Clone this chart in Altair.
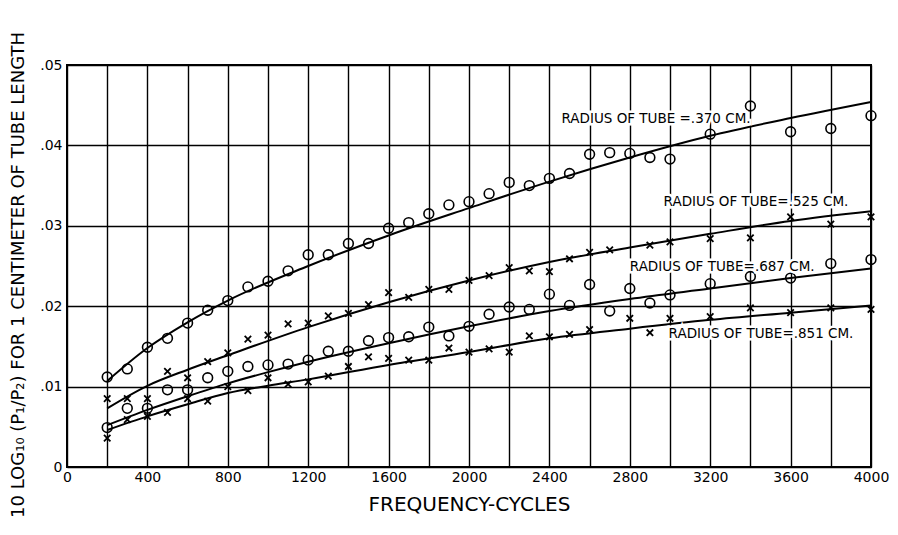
import altair as alt
import pandas as pd

# ---- data ----
freq_370 = [200,300,400,500,600,700,800,900,1000,1100,1200,1300,1400,1500,1600,1700,1800,1900,2000,
            2100,2200,2300,2400,2500,2600,2700,2800,2900,3000,3200,3400,3600,3800,4000]
val_370 = [.0112,.0122,.0149,.0160,.0179,.0195,.0207,.0224,.0231,.0244,.0264,.0264,.0278,.0278,.0297,.0304,
           .0315,.0326,.0330,.0340,.0354,.0350,.0359,.0365,.0389,.0391,.0390,.0385,.0383,.0414,.0449,.0417,
           .0421,.0437]

freq_525 = [200,300,400,500,600,700,800,900,1000,1100,1200,1300,1400,1500,1600,1700,1800,1900,2000,
            2100,2200,2300,2400,2500,2600,2700,2900,3000,3200,3400,3600,3800,4000]
val_525 = [.0085,.0085,.0085,.0119,.0111,.0131,.0142,.0159,.0164,.0178,.0179,.0188,.0191,.0202,.0217,.0211,
           .0221,.0221,.0232,.0238,.0248,.0244,.0243,.0259,.0267,.0270,.0276,.0280,.0284,.0285,.0311,.0302,
           .0311]

freq_687 = [200,300,400,500,600,700,800,900,1000,1100,1200,1300,1400,1500,1600,1700,1800,1900,2000,
            2100,2200,2300,2400,2500,2600,2700,2800,2900,3000,3200,3400,3600,3800,4000]
val_687 = [.0049,.0073,.0073,.0096,.0096,.0111,.0119,.0125,.0127,.0128,.0133,.0144,.0144,.0157,.0161,.0162,
           .0174,.0163,.0175,.0190,.0199,.0196,.0215,.0201,.0227,.0194,.0222,.0204,.0214,.0228,.0237,.0235,
           .0253,.0258]

freq_851 = [200,300,400,500,600,700,800,900,1000,1100,1200,1300,1400,1500,1600,1700,1800,1900,2000,
            2100,2200,2300,2400,2500,2600,2800,2900,3000,3200,3400,3600,3800,4000]
val_851 = [.0036,.0059,.0063,.0068,.0085,.0082,.0100,.0095,.0111,.0103,.0106,.0113,.0125,.0137,.0135,.0133,
           .0133,.0148,.0143,.0147,.0143,.0163,.0162,.0165,.0171,.0185,.0167,.0185,.0187,.0198,.0192,.0198,
           .0196]

# fitted curves
fit_freq_370 = [200,400,600,800,1200,1600,2000,2400,2800,3200,3600,4000]
fit_val_370 = [.0107,.0148,.0180,.0207,.0250,.0288,.0322,.0355,.0385,.0412,.0434,.0454]
fit_freq_525 = [200,400,600,800,1200,1600,2000,2400,2800,3200,3600,4000]
fit_val_525 = [.0073,.0101,.0121,.0139,.0174,.0205,.0232,.0255,.0273,.0290,.0306,.0318]
fit_freq_687 = [200,400,600,800,1000,1200,1600,2000,2400,2800,3200,3600,4000]
fit_val_687 = [.0052,.0071,.0088,.0104,.0118,.0131,.0154,.0175,.0194,.0209,.0222,.0235,.0247]
fit_freq_851 = [200,400,600,800,1000,1200,1600,2000,2400,2800,3200,3600,4000]
fit_val_851 = [.0046,.0063,.0078,.0092,.0101,.0109,.0127,.0143,.0160,.0172,.0183,.0192,.0201]

label_text = ["RADIUS OF TUBE =.370 CM.", "RADIUS OF TUBE=.525 CM.",
              "RADIUS OF TUBE=.687 CM.", "RADIUS OF TUBE=.851 CM."]
label_freq = [2460, 2968, 2800, 2993]
label_val = [.0433, .0330, .0249, .0165]

x_ticks = list(range(0, 4001, 200))
y_ticks = [0, .01, .02, .03, .04, .05]

# ---- tables ----
circles = pd.DataFrame({
    "freq": freq_370 + freq_687,
    "val": val_370 + val_687,
})
crosses = pd.DataFrame({
    "freq": freq_525 + freq_851,
    "val": val_525 + val_851,
})
fits = pd.concat([
    pd.DataFrame({"freq": fit_freq_370, "val": fit_val_370, "s": ".370"}),
    pd.DataFrame({"freq": fit_freq_525, "val": fit_val_525, "s": ".525"}),
    pd.DataFrame({"freq": fit_freq_687, "val": fit_val_687, "s": ".687"}),
    pd.DataFrame({"freq": fit_freq_851, "val": fit_val_851, "s": ".851"}),
])
labels = pd.DataFrame({"text": label_text, "freq": label_freq, "val": label_val})

FONT = "DejaVu Sans"

x_enc = alt.X("freq:Q", scale=alt.Scale(domain=[0, 4000], nice=False),
              axis=alt.Axis(values=x_ticks, format="d",
                            labelExpr="datum.value % 400 == 0 ? datum.label : ''",
                            title="FREQUENCY-CYCLES", titleFontSize=20, titleFontWeight="normal",
                            titleFont=FONT, titleColor="black", titlePadding=10,
                            labelFont=FONT, labelFontSize=14, labelColor="black", labelPadding=3,
                            grid=True, gridColor="black", gridWidth=1.4, gridOpacity=1,
                            domain=False, ticks=False, labelFlush=False))
y_enc = alt.Y("val:Q", scale=alt.Scale(domain=[0, 0.05], nice=False),
              axis=alt.Axis(values=y_ticks,
                            labelExpr="datum.value == 0 ? '0' : replace(format(datum.value, '.2f'), '0.', '.')",
                            title=None, labelFont=FONT, labelFontSize=14, labelColor="black",
                            labelPadding=5, grid=True, gridColor="black", gridWidth=1.4,
                            gridOpacity=1, domain=False, ticks=False, labelFlush=False))

lines = alt.Chart(fits).mark_line(color="black", strokeWidth=2, interpolate="monotone").encode(
    x=x_enc, y=y_enc, detail="s:N")

circ = alt.Chart(circles).mark_point(shape="circle", filled=False, color="black",
                                     strokeWidth=1.6, size=95, opacity=1).encode(
    x="freq:Q", y="val:Q")

cross = alt.Chart(crosses).mark_point(shape="M-1,-1L1,1M-1,1L1,-1", filled=False, color="black",
                                      strokeWidth=1.8, size=42, opacity=1).encode(
    x="freq:Q", y="val:Q")

halo = alt.Chart(labels).mark_text(align="left", baseline="middle", font=FONT, fontSize=13.5,
                                   color="white", stroke="white", strokeWidth=5).encode(
    x="freq:Q", y="val:Q", text="text:N")

text = alt.Chart(labels).mark_text(align="left", baseline="middle", font=FONT, fontSize=13.5,
                                   color="black").encode(
    x="freq:Q", y="val:Q", text="text:N")

ytitle = alt.Chart(pd.DataFrame({"t": ["10 LOG\u2081\u2080 (P\u2081/P\u2082) FOR 1 CENTIMETER OF TUBE LENGTH"]})).mark_text(
    angle=270, align="center", baseline="middle", font=FONT, fontSize=18, color="black").encode(
    x=alt.value(-48), y=alt.value(210), text="t:N")

chart = alt.layer(lines, circ, cross, halo, text, ytitle).properties(
    width=804, height=402,
    autosize=alt.AutoSizeParams(type="none"),
    padding={"left": 59, "top": 57, "right": 19, "bottom": 60},
    background="white",
).configure_view(stroke="black", strokeWidth=2)

chart.save("out.html", embed_options={"renderer": "svg", "actions": False})
